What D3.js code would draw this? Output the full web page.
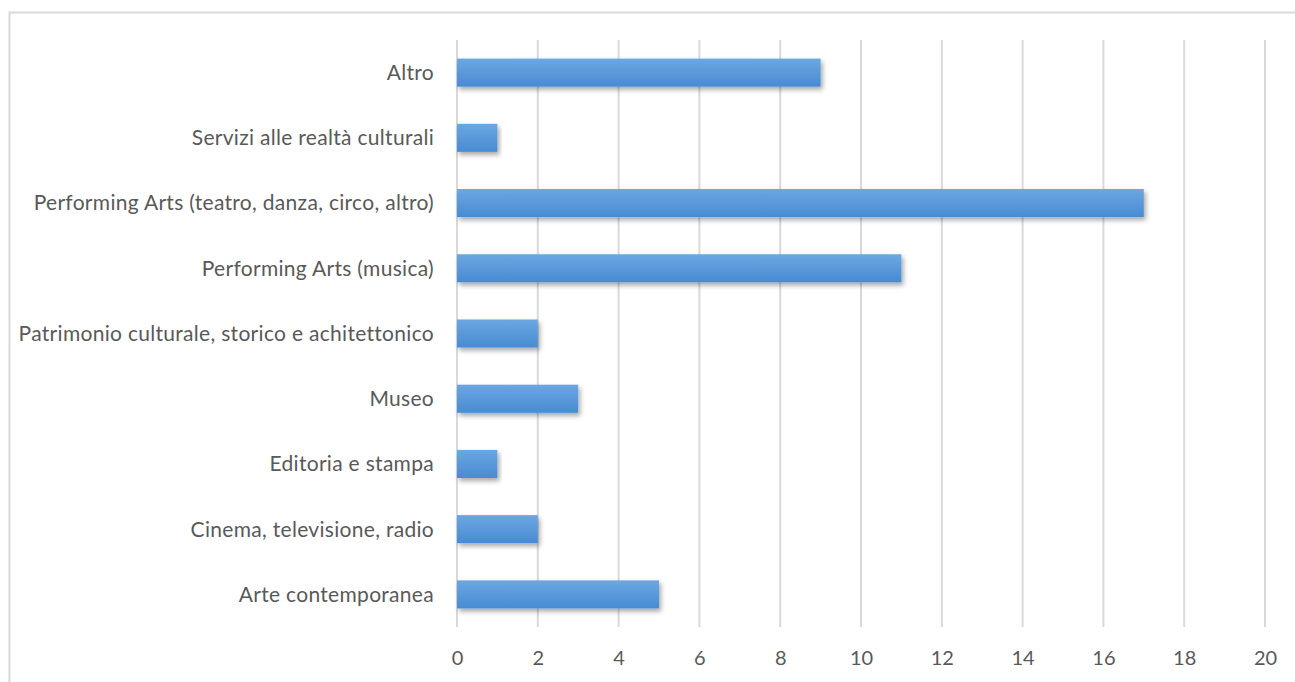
<!DOCTYPE html>
<html><head><meta charset="utf-8">
<script src="https://cdn.jsdelivr.net/npm/d3@7"></script>
<style>body{margin:0;background:#fff;} svg{display:block;}</style>
</head><body>
<script>
const categories = ["Altro","Servizi alle realtà culturali","Performing Arts (teatro, danza, circo, altro)","Performing Arts (musica)","Patrimonio culturale, storico e achitettonico","Museo","Editoria e stampa","Cinema, televisione, radio","Arte contemporanea"];
const values = [9,1,17,11,2,3,1,2,5];
const xTicks = [0,2,4,6,8,10,12,14,16,18,20];

const W=1295,H=682;
const svg=d3.select("body").append("svg").attr("width",W).attr("height",H);
const defs=svg.append("defs");
const g=defs.append("linearGradient").attr("id","bg").attr("x1",0).attr("y1",0).attr("x2",0).attr("y2",1);
g.append("stop").attr("offset","0%").attr("stop-color","#6ba7e1");
g.append("stop").attr("offset","100%").attr("stop-color","#488bd3");
const f=defs.append("filter").attr("id","sh").attr("x","-5%").attr("y","-30%").attr("width","115%").attr("height","190%");
f.append("feDropShadow").attr("dx",2).attr("dy",3).attr("stdDeviation",2.5).attr("flood-color","#000").attr("flood-opacity",0.35);

svg.append("rect").attr("x",9.5).attr("y",12.5).attr("width",1400).attr("height",800).attr("fill","#fff").attr("stroke","#d9d9d9").attr("stroke-width",2);

const x=d3.scaleLinear().domain([0,20]).range([457,1265]);
const y=d3.scaleBand().domain(categories).range([40,627]).paddingInner(0.57).paddingOuter(0.285);

svg.append("g").selectAll("line").data(xTicks).join("line")
 .attr("x1",d=>x(d)).attr("x2",d=>x(d)).attr("y1",40).attr("y2",627)
 .attr("stroke","#d9d9d9").attr("stroke-width",2);

svg.append("g").selectAll("rect").data(values).join("rect")
 .attr("x",x(0)).attr("y",(d,i)=>y(categories[i]))
 .attr("width",d=>x(d)-x(0)).attr("height",y.bandwidth())
 .attr("fill","url(#bg)").attr("filter","url(#sh)");

const ax=d3.axisBottom(x).tickValues(xTicks).tickSize(0).tickPadding(0);
const axg=svg.append("g").attr("transform","translate(0,658)").call(ax);
axg.select(".domain").remove();
axg.selectAll("text").attr("font-family","Lato, 'Open Sans', sans-serif").attr("font-size",20).attr("fill","#595959").attr("dy","0.35em");

const ay=d3.axisLeft(y).tickSize(0).tickPadding(0);
const ayg=svg.append("g").attr("transform","translate(434,0)").call(ay);
ayg.select(".domain").remove();
ayg.selectAll("text").attr("font-family","Lato, 'Open Sans', sans-serif").attr("font-size",21).attr("letter-spacing","0.3px").attr("fill","#595959").attr("dy","0.35em");
</script>
</body></html>
